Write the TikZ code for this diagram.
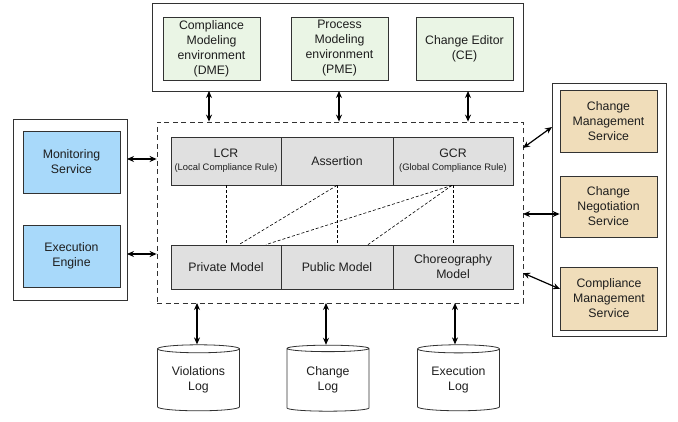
\documentclass[tikz,border=0pt]{standalone}
\usepackage{fontspec}
\setmainfont{Liberation Sans}
\usetikzlibrary{arrows.meta,shapes.geometric,calc}

\definecolor{toolgreen}{RGB}{234,245,229}
\definecolor{runblue}{RGB}{168,217,250}
\definecolor{svctan}{RGB}{240,221,186}
\definecolor{cellgray}{RGB}{224,224,224}
\definecolor{edge}{RGB}{50,50,50}
\definecolor{ink}{RGB}{30,30,30}

\tikzset{
  x=1pt, y=-1pt,
  every node/.style={font=\fontsize{12.3}{15}\selectfont, text=ink, align=center, inner sep=0pt},
  frame/.style={draw=edge, line width=0.8pt, fill=white},
  boxbase/.style={draw=edge, line width=0.8pt, minimum width=97pt, minimum height=62pt},
  toolbox/.style={boxbase, fill=toolgreen, minimum height=63pt},
  runbox/.style={boxbase, fill=runblue},
  svcbox/.style={boxbase, fill=svctan},
  cell/.style={draw=edge, line width=0.8pt, fill=cellgray},
  uprow/.style={cell, minimum height=48pt},
  lowrow/.style={cell, minimum height=44pt},
  store/.style={cylinder, shape border rotate=90, aspect=0.15, draw=edge,
    line width=0.8pt, fill=white, minimum width=82pt, minimum height=66pt},
  link/.style={line width=1.2pt, {Stealth[length=7pt,width=6pt]}-{Stealth[length=7pt,width=6pt]}},
  trace/.style={line width=0.6pt, dash pattern=on 3pt off 2pt}
}
\newcommand{\rulenote}[1]{{\fontsize{9.4}{11}\selectfont #1}}

\begin{document}
\begin{tikzpicture}
\useasboundingbox (0,0) rectangle (678,422);

% modeling tools
\node[frame, minimum width=371pt, minimum height=88pt] (tools) at (337.5,47) {};
\node[toolbox] (dme) at (211.5,48.5) {Compliance\\Modeling\\environment\\(DME)};
\node[toolbox] (pme) at (339.5,48.5) {Process\\Modeling\\environment\\(PME)};
\node[toolbox] (ce)  at (464.5,48.5) {Change Editor\\(CE)};

% runtime side
\node[frame, minimum width=114pt, minimum height=181pt] (runtime) at (70,209.5) {};
\node[runbox] (mon) at (71.5,162) {Monitoring\\Service};
\node[runbox] (exe) at (71.5,256) {Execution\\Engine};

% services side
\node[frame, minimum width=114pt, minimum height=253pt] (services) at (609,209.5) {};
\node[svcbox] (chm) at (608.5,121) {Change\\Management\\Service};
\node[svcbox, minimum height=61pt] (chn) at (608.5,206.5) {Change\\Negotiation\\Service};
\node[svcbox, minimum height=63pt] (cpm) at (609,298.5) {Compliance\\Management\\Service};

% core repository
\node[draw=edge, line width=0.8pt, dash pattern=on 5pt off 3.5pt,
      minimum width=366pt, minimum height=181pt] (core) at (340,212.5) {};

\node[uprow, minimum width=110pt] (lcr) at (226,161)
  {LCR\\[-2pt]\rulenote{(Local Compliance Rule)}};
\node[uprow, minimum width=112pt] (asr) at (337,161) {Assertion};
\node[uprow, minimum width=120pt] (gcr) at (453,161)
  {GCR\\[-2pt]\rulenote{(Global Compliance Rule)}};

\node[lowrow, minimum width=110pt] (prv) at (226,267) {Private Model};
\node[lowrow, minimum width=112pt] (pub) at (337,267) {Public Model};
\node[lowrow, minimum width=120pt] (cho) at (453,267) {Choreography\\Model};

% rule-to-model relations
\draw[trace] (lcr.south) -- (prv.north);
\draw[trace] (asr.south) -- (pub.north);
\draw[trace] (gcr.south) -- (cho.north);
\draw[trace] (asr.south) -- ($(prv.north)+(13,0)$);
\draw[trace] ($(gcr.south)+(-1,0)$) -- ($(prv.north)+(40,0)$);
\draw[trace] ($(gcr.south)+(-1,0)$) -- ($(pub.north)+(31,0)$);

% logs
\node[store] (vlog) at (198.5,380) {Violations\\Log};
\node[store] (clog) at (328,380) {Change\\Log};
\node[store] (elog) at (458.5,380) {Execution\\Log};

% connections
\coordinate (t1) at (209,91);  \coordinate (t2) at (339,91);  \coordinate (t3) at (468,91);
\draw[link] (t1) -- (t1 |- core.north);
\draw[link] (t2) -- (t2 |- core.north);
\draw[link] (t3) -- (t3 |- core.north);

\coordinate (l1) at (127,159); \coordinate (l2) at (127,254);
\draw[link] (l1) -- (l1 -| core.west);
\draw[link] (l2) -- (l2 -| core.west);

\coordinate (r1) at (523,148); \coordinate (r1e) at (552,127);
\coordinate (r2) at (523,214);
\coordinate (r3) at (523,273); \coordinate (r3e) at (560,289);
\draw[link] (r1) -- (r1e);
\draw[link] (r2) -- (r2 -| chn.west);
\draw[link] (r3) -- (r3e);

\coordinate (b1) at (197,303); \coordinate (b2) at (326,303); \coordinate (b3) at (455,303);
\draw[link] (b1) -- (b1 |- vlog.north);
\draw[link] (b2) -- (b2 |- clog.north);
\draw[link] (b3) -- (b3 |- elog.north);
\end{tikzpicture}
\end{document}
